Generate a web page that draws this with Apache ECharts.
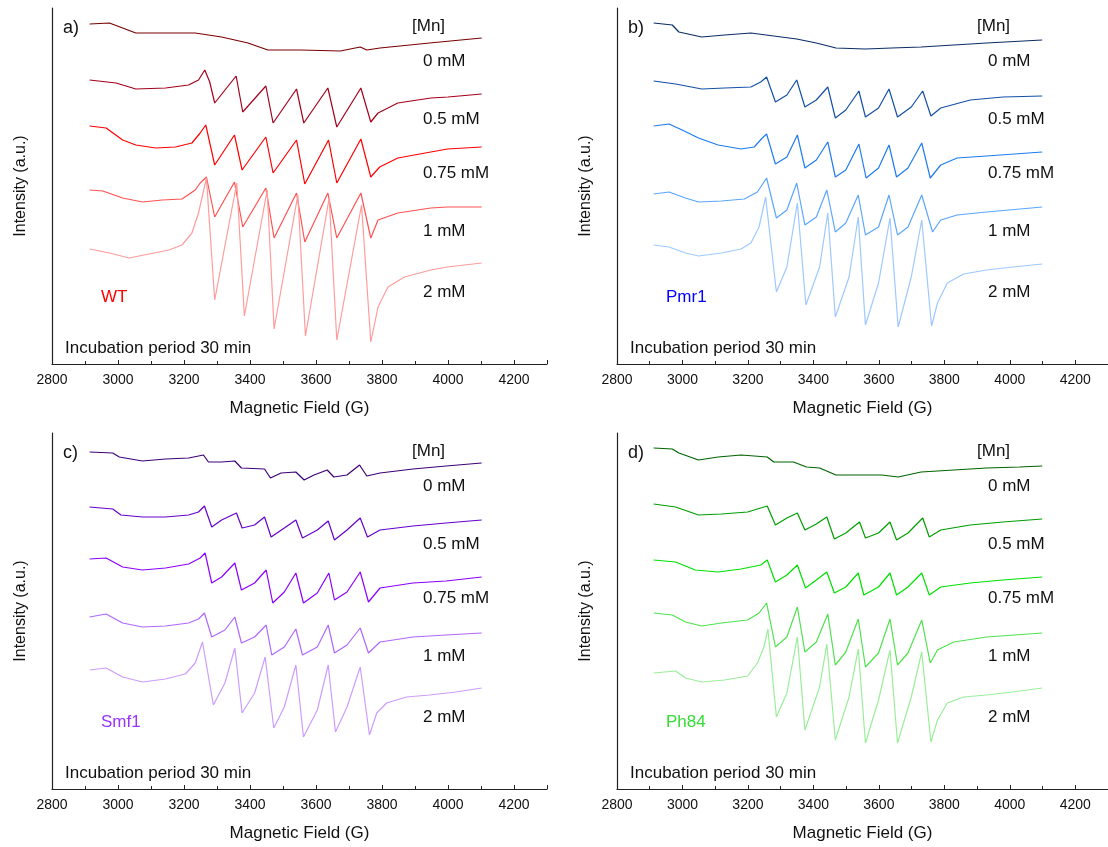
<!DOCTYPE html>
<html><head><meta charset="utf-8">
<script src="https://cdn.jsdelivr.net/npm/echarts@6/dist/echarts.min.js"></script>
<style>html,body{margin:0;padding:0;background:#fff}#c{width:1108px;height:847px}</style>
</head><body><div id="c"></div>
<script>
// ---------- data: [field (G), intensity (a.u.)] ----------
const concLabels = ['0 mM', '0.5 mM', '0.75 mM', '1 mM', '2 mM'];
const xTicks = [2800, 3000, 3200, 3400, 3600, 3800, 4000, 4200];
const panelTags = ['a)', 'b)', 'c)', 'd)'];
const strains = ['WT', 'Pmr1', 'Smf1', 'Ph84'];

// a) WT
const a0 = [[2914,340],[2974,341],[3054,331],[3144,331],[3234,331],[3314,327],[3394,321],[3454,314],[3554,314],[3674,313],[3734,317],[3754,314],[3794,316],[3944,321],[4102,326]];
const a05 = [[2914,284],[2994,281],[3054,275],[3144,276],[3214,279],[3244,284],[3263,294],[3278,282],[3293,261],[3358,288],[3378,252],[3448,278],[3470,241],[3541,275],[3563,241],[3636,276],[3663,237],[3736,276],[3766,242],[3788,251],[3848,261],[3948,266],[4000,267],[4102,270]];
const a075 = [[2914,238],[2964,236],[3014,224],[3054,219],[3114,216],[3174,217],[3224,221],[3249,231],[3266,239],[3293,199],[3353,229],[3376,194],[3448,227],[3470,191],[3541,224],[3566,180],[3638,224],[3663,181],[3736,225],[3766,187],[3793,197],[3848,206],[3948,212],[3998,215],[4102,217]];
const a1 = [[2914,174],[2954,173],[3014,166],[3074,162],[3134,164],[3194,165],[3234,174],[3249,181],[3268,187],[3293,147],[3353,182],[3378,137],[3448,176],[3473,126],[3541,171],[3566,122],[3636,171],[3663,126],[3736,171],[3766,126],[3788,144],[3848,151],[3948,156],[3998,157],[4102,157]];
const a2 = [[2914,115],[2974,111],[3034,106],[3094,110],[3154,114],[3194,119],[3224,131],[3244,151],[3268,186],[3293,64],[3360,181],[3383,48],[3452,174],[3473,35],[3545,169],[3568,28],[3640,166],[3663,24],[3738,159],[3766,22],[3788,57],[3818,77],[3868,87],[3948,94],[3998,97],[4102,101]];

// b) Pmr1
const b0 = [[2912,341],[2969,339],[2989,332],[3059,327],[3129,329],[3209,331],[3279,328],[3349,325],[3409,321],[3469,316],[3559,315],[3639,316],[3729,317],[3829,319],[3929,321],[4099,324]];
const b05 = [[2912,283],[2979,280],[3059,275],[3129,276],[3209,277],[3239,282],[3257,287],[3284,262],[3319,269],[3349,284],[3374,257],[3409,264],[3444,277],[3467,246],[3499,254],[3539,273],[3559,247],[3599,256],[3631,275],[3657,247],[3699,257],[3734,273],[3759,248],[3789,256],[3879,264],[3979,267],[4099,268]];
const b075 = [[2912,238],[2959,240],[2999,234],[3049,226],[3109,219],[3179,215],[3219,217],[3244,226],[3257,230],[3284,200],[3319,207],[3351,229],[3374,196],[3409,204],[3444,222],[3467,187],[3499,194],[3539,220],[3561,186],[3599,196],[3631,219],[3654,187],[3689,196],[3731,221],[3757,186],[3789,199],[3839,206],[3929,208],[4099,212]];
const b1 = [[2912,170],[2959,172],[3009,166],[3049,162],[3119,163],[3189,165],[3229,172],[3257,186],[3287,146],[3319,154],[3349,181],[3374,139],[3409,147],[3441,174],[3467,132],[3499,141],[3537,169],[3559,129],[3599,137],[3631,169],[3657,129],[3689,137],[3731,169],[3764,132],[3789,144],[3839,149],[3929,152],[4099,157]];
const b2 = [[2912,119],[2959,117],[3009,111],[3049,108],[3119,111],[3179,115],[3209,121],[3234,137],[3254,167],[3287,72],[3319,97],[3351,161],[3377,59],[3419,97],[3444,151],[3467,47],[3509,87],[3537,147],[3559,39],[3599,81],[3634,146],[3659,37],[3699,87],[3731,144],[3761,38],[3779,61],[3809,81],[3859,90],[3929,94],[4009,97],[4099,100]];

// c) Smf1
const c0 = [[2914,337],[2984,336],[3004,332],[3074,328],[3144,330],[3214,331],[3259,334],[3274,327],[3314,327],[3354,328],[3374,321],[3444,320],[3462,311],[3494,316],[3539,317],[3564,309],[3594,314],[3634,319],[3654,312],[3694,314],[3732,324],[3754,313],[3794,316],[3894,320],[3994,323],[4102,326]];
const c05 = [[2914,282],[2984,280],[3009,274],[3074,272],[3144,272],[3214,274],[3244,277],[3262,283],[3284,262],[3314,269],[3359,276],[3376,261],[3414,264],[3444,272],[3464,252],[3504,261],[3539,269],[3559,251],[3604,259],[3637,268],[3656,249],[3694,259],[3734,271],[3756,252],[3794,259],[3894,263],[3994,266],[4102,269]];
const c075 = [[2914,230],[2964,231],[3014,222],[3074,219],[3144,221],[3214,225],[3249,231],[3264,236],[3284,206],[3314,212],[3354,226],[3374,199],[3414,206],[3449,219],[3469,186],[3504,197],[3539,216],[3562,186],[3604,196],[3639,216],[3656,189],[3694,197],[3734,217],[3759,187],[3794,201],[3894,206],[3994,208],[4102,212]];
const c1 = [[2914,172],[2964,175],[3014,166],[3074,162],[3144,163],[3214,166],[3244,170],[3262,176],[3284,152],[3324,159],[3354,172],[3374,146],[3414,152],[3449,164],[3466,134],[3504,142],[3539,160],[3559,134],[3604,142],[3637,164],[3656,136],[3694,144],[3734,161],[3759,136],[3794,147],[3894,152],[3994,154],[4102,156]];
const c2 = [[2914,119],[2964,121],[3014,112],[3074,107],[3144,110],[3204,115],[3234,126],[3256,147],[3289,84],[3324,106],[3354,141],[3376,76],[3414,96],[3446,132],[3472,61],[3504,82],[3539,124],[3562,52],[3604,79],[3637,124],[3659,57],[3694,82],[3734,122],[3762,54],[3784,76],[3814,86],[3874,92],[3944,94],[4024,97],[4102,101]];

// d) Ph84
const d0 = [[2912,341],[2969,340],[2989,336],[3049,329],[3109,332],[3179,334],[3259,332],[3279,327],[3339,327],[3379,322],[3419,321],[3469,314],[3539,314],[3609,314],[3659,312],[3729,317],[3829,319],[3929,321],[4029,322],[4099,323]];
const d05 = [[2912,285],[2979,282],[3049,274],[3119,275],[3199,277],[3239,281],[3259,283],[3284,264],[3319,271],[3351,276],[3374,259],[3409,265],[3441,272],[3464,250],[3499,256],[3541,267],[3559,251],[3599,256],[3634,267],[3654,249],[3689,256],[3734,271],[3754,252],[3789,259],[3879,264],[3979,267],[4099,270]];
const d075 = [[2912,229],[2979,227],[3039,219],[3109,217],[3179,220],[3239,224],[3259,229],[3284,207],[3319,214],[3351,224],[3376,201],[3409,209],[3441,217],[3464,196],[3499,202],[3537,216],[3554,194],[3599,202],[3634,216],[3654,194],[3689,202],[3731,216],[3754,194],[3789,202],[3879,206],[3979,209],[4099,212]];
const d1 = [[2912,176],[2969,174],[3009,167],[3059,163],[3119,166],[3199,169],[3234,176],[3257,186],[3284,142],[3319,152],[3351,182],[3374,137],[3409,147],[3444,175],[3467,124],[3499,137],[3537,170],[3559,122],[3599,136],[3634,170],[3657,124],[3689,136],[3731,169],[3757,126],[3779,139],[3829,147],[3929,152],[4099,156]];
const d2 = [[2912,116],[2979,118],[3009,111],[3059,107],[3129,109],[3199,113],[3229,126],[3249,142],[3261,160],[3287,72],[3319,96],[3351,152],[3374,59],[3419,102],[3441,145],[3467,49],[3509,92],[3537,140],[3559,46],[3599,89],[3634,139],[3657,46],[3699,92],[3731,137],[3759,47],[3779,69],[3809,86],[3859,92],[3929,94],[4009,97],[4099,101]];

const panelData = [[a0,a05,a075,a1,a2],[b0,b05,b075,b1,b2],[c0,c05,c075,c1,c2],[d0,d05,d075,d1,d2]];
const panelColors = [
  ['#7a0000','#a3001c','#ff0000','#ff5252','#ff9c9c'],
  ['#0b2d66','#1550a6','#1f7cf0','#5ba6ff','#9dc9ff'],
  ['#3d0078','#6600cc','#8c00ff','#b067ff','#cd9cff'],
  ['#006400','#009e00','#00e000','#4fe24f','#9aee9a']
];
const strainColors = ['#ff0000','#0000ff','#9933ff','#33dd33'];

// ---------- layout ----------
const FONT = '"Liberation Sans", Arial, sans-serif';
const G = [
  {left:52, top:8, width:495, height:356},
  {left:617, top:8, width:495, height:356},
  {left:52, top:433, width:495, height:356},
  {left:617, top:433, width:495, height:356}
];
const labelOffsets = [53, 111, 165, 223, 284];

const grids = [], xAxes = [], yAxes = [], series = [], graphics = [];
G.forEach((g, p) => {
  grids.push(Object.assign({containLabel:false}, g));
  xAxes.push({
    type:'value', gridIndex:p, min:2800, max:4300, interval:200,
    name:'Magnetic Field (G)', nameLocation:'middle', nameGap:36,
    nameTextStyle:{fontFamily:FONT, fontSize:17, color:'#111'},
    axisLine:{show:true, onZero:false, lineStyle:{color:'#222', width:1.2}},
    axisTick:{show:true, inside:true, length:4, lineStyle:{color:'#222'}},
    minorTick:{show:true, splitNumber:2, length:3, lineStyle:{color:'#222'}},
    axisLabel:{fontFamily:FONT, fontSize:14, color:'#111', margin:9, showMaxLabel:false,
      formatter: v => xTicks.includes(v) ? String(v) : ''},
    splitLine:{show:false}
  });
  yAxes.push({
    type:'value', gridIndex:p, min:0, max:356,
    name:'Intensity (a.u.)', nameLocation:'middle', nameGap:23, nameRotate:90,
    nameTextStyle:{fontFamily:FONT, fontSize:16, color:'#111'},
    axisLine:{show:true, lineStyle:{color:'#222', width:1.2}},
    axisTick:{show:false}, axisLabel:{show:false}, splitLine:{show:false}
  });
  panelData[p].forEach((d, k) => {
    series.push({
      type:'line', xAxisIndex:p, yAxisIndex:p, data:d, showSymbol:false, symbol:'none',
      lineStyle:{width:1.2, color:panelColors[p][k]}, silent:true, animation:false
    });
  });
  const L = g.left, T = g.top;
  graphics.push({type:'text', x:L+11, y:T+20, style:{text:panelTags[p], fontFamily:FONT, fontSize:18, fill:'#111', verticalAlign:'middle'}});
  graphics.push({type:'text', x:L+360, y:T+18, style:{text:'[Mn]', fontFamily:FONT, fontSize:17, fill:'#111', verticalAlign:'middle'}});
  concLabels.forEach((s, k) => graphics.push({type:'text', x:L+371, y:T+labelOffsets[k],
    style:{text:s, fontFamily:FONT, fontSize:17, fill:'#111', verticalAlign:'middle'}}));
  graphics.push({type:'text', x:L+49, y:T+289, style:{text:strains[p], fontFamily:FONT, fontSize:17, fill:strainColors[p], verticalAlign:'middle'}});
  graphics.push({type:'text', x:L+13, y:T+340, style:{text:'Incubation period 30 min', fontFamily:FONT, fontSize:17, fill:'#111', verticalAlign:'middle'}});
});

const chart = echarts.init(document.getElementById('c'), null, {renderer:'canvas'});
chart.setOption({
  animation:false, backgroundColor:'#fff',
  grid:grids, xAxis:xAxes, yAxis:yAxes, series:series, graphic:graphics
});
</script>
</body></html>
